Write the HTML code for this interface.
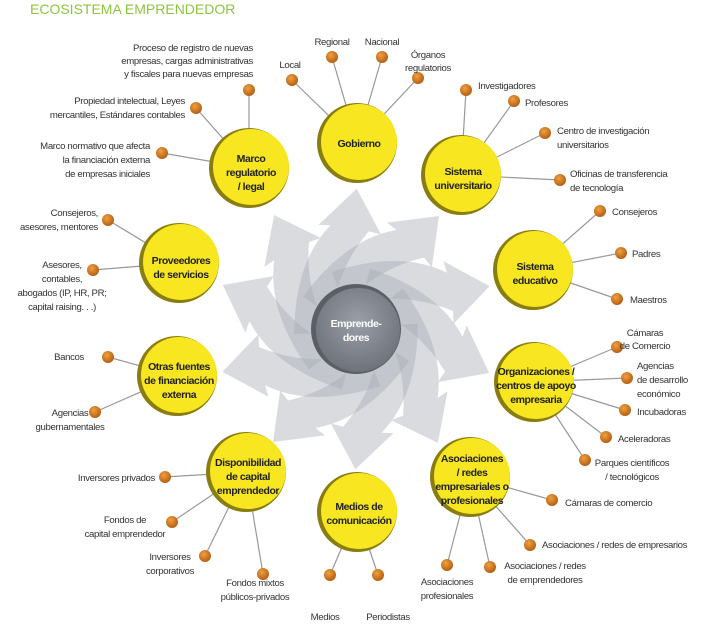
<!DOCTYPE html>
<html><head><meta charset="utf-8"><style>
body{margin:0;background:#fff}
svg{display:block}
text{font-family:"Liberation Sans Narrow","Liberation Sans",sans-serif;font-size:9.6px;letter-spacing:-0.35px;fill:#333}
.n{font-weight:bold;font-size:10.5px;letter-spacing:-0.45px;fill:#222;text-anchor:middle}
.c{text-anchor:middle}.e{text-anchor:end}
</style></head><body>
<svg width="720" height="626" viewBox="0 0 720 626" xmlns="http://www.w3.org/2000/svg">
<defs>
<radialGradient id="dot" cx="0.4" cy="0.35" r="0.7"><stop offset="0" stop-color="#f0a040"/><stop offset="1" stop-color="#b05a10"/></radialGradient>
<radialGradient id="cg" cx="0.5" cy="0.4" r="0.6"><stop offset="0" stop-color="#9a9ea6"/><stop offset="1" stop-color="#6e727a"/></radialGradient>
<path id="arr" fill="rgba(165,170,178,0.42)" d="M -62,2 Q -58,-70 -20,-105 L -32,-106 L 8,-140 L 30,-93 L 18,-97 Q -22,-55 -24,2 Z"/>
</defs>
<text x="30" y="14" style="font-size:14px;letter-spacing:0;fill:#8cc63f;font-family:'Liberation Sans',sans-serif">ECOSISTEMA EMPRENDEDOR</text>
<g transform="translate(356,329)">
<use href="#arr" transform="rotate(-3)"/><use href="#arr" transform="rotate(33)"/><use href="#arr" transform="rotate(69)"/><use href="#arr" transform="rotate(105)"/><use href="#arr" transform="rotate(141)"/><use href="#arr" transform="rotate(177)"/><use href="#arr" transform="rotate(213)"/><use href="#arr" transform="rotate(249)"/><use href="#arr" transform="rotate(285)"/><use href="#arr" transform="rotate(321)"/>
<circle r="45" fill="#5a5e66"/><circle r="42" cx="2" cy="1" fill="url(#cg)"/>
<text class="n" y="-2" style="fill:#fff">Emprende-</text><text class="n" y="12" style="fill:#fff">dores</text>
</g>
<g stroke="#999" stroke-width="1.2">
<line x1="292" y1="80" x2="357" y2="143"/><line x1="332" y1="57" x2="357" y2="143"/><line x1="382" y1="57" x2="357" y2="143"/><line x1="418" y1="78" x2="357" y2="143"/>
<line x1="249" y1="90" x2="249" y2="168"/><line x1="196" y1="108" x2="249" y2="168"/><line x1="162" y1="153" x2="249" y2="168"/>
<line x1="108" y1="220" x2="179" y2="263"/><line x1="93" y1="270" x2="179" y2="263"/>
<line x1="108" y1="357" x2="177" y2="376"/><line x1="95" y1="412" x2="177" y2="376"/>
<line x1="165" y1="477" x2="246" y2="472"/><line x1="172" y1="522" x2="246" y2="472"/><line x1="205" y1="556" x2="246" y2="472"/><line x1="263" y1="574" x2="246" y2="472"/>
<line x1="330" y1="575" x2="357" y2="512"/><line x1="378" y1="575" x2="357" y2="512"/>
<line x1="552" y1="500" x2="470" y2="477"/><line x1="530" y1="545" x2="470" y2="477"/><line x1="490" y1="567" x2="470" y2="477"/><line x1="447" y1="565" x2="470" y2="477"/>
<line x1="617" y1="347" x2="534" y2="382"/><line x1="627" y1="378" x2="534" y2="382"/><line x1="625" y1="410" x2="534" y2="382"/><line x1="606" y1="437" x2="534" y2="382"/><line x1="585" y1="460" x2="534" y2="382"/>
<line x1="600" y1="211" x2="533" y2="270"/><line x1="621" y1="253" x2="533" y2="270"/><line x1="617" y1="299" x2="533" y2="270"/>
<line x1="466" y1="90" x2="461" y2="175"/><line x1="514" y1="101" x2="461" y2="175"/><line x1="545" y1="133" x2="461" y2="175"/><line x1="560" y1="180" x2="461" y2="175"/>
</g>
<g fill="url(#dot)">
<circle cx="292" cy="80" r="6"/><circle cx="332" cy="57" r="6"/><circle cx="382" cy="57" r="6"/><circle cx="418" cy="78" r="6"/>
<circle cx="249" cy="90" r="6"/><circle cx="196" cy="108" r="6"/><circle cx="162" cy="153" r="6"/>
<circle cx="108" cy="220" r="6"/><circle cx="93" cy="270" r="6"/>
<circle cx="108" cy="357" r="6"/><circle cx="95" cy="412" r="6"/>
<circle cx="165" cy="477" r="6"/><circle cx="172" cy="522" r="6"/><circle cx="205" cy="556" r="6"/><circle cx="263" cy="574" r="6"/>
<circle cx="330" cy="575" r="6"/><circle cx="378" cy="575" r="6"/>
<circle cx="552" cy="500" r="6"/><circle cx="530" cy="545" r="6"/><circle cx="490" cy="567" r="6"/><circle cx="447" cy="565" r="6"/>
<circle cx="617" cy="347" r="6"/><circle cx="627" cy="378" r="6"/><circle cx="625" cy="410" r="6"/><circle cx="606" cy="437" r="6"/><circle cx="585" cy="460" r="6"/>
<circle cx="600" cy="211" r="6"/><circle cx="621" cy="253" r="6"/><circle cx="617" cy="299" r="6"/>
<circle cx="466" cy="90" r="6"/><circle cx="514" cy="101" r="6"/><circle cx="545" cy="133" r="6"/><circle cx="560" cy="180" r="6"/>
</g>
<g>
<g transform="translate(357,143)"><circle r="40" fill="#8a7d10"/><circle r="38" cx="2" cy="-1" fill="#f7e620"/></g>
<g transform="translate(461,175)"><circle r="40" fill="#8a7d10"/><circle r="38" cx="2" cy="-1" fill="#f7e620"/></g>
<g transform="translate(533,270)"><circle r="40" fill="#8a7d10"/><circle r="38" cx="2" cy="-1" fill="#f7e620"/></g>
<g transform="translate(534,382)"><circle r="40" fill="#8a7d10"/><circle r="38" cx="2" cy="-1" fill="#f7e620"/></g>
<g transform="translate(470,477)"><circle r="40" fill="#8a7d10"/><circle r="38" cx="2" cy="-1" fill="#f7e620"/></g>
<g transform="translate(357,512)"><circle r="40" fill="#8a7d10"/><circle r="38" cx="2" cy="-1" fill="#f7e620"/></g>
<g transform="translate(246,472)"><circle r="40" fill="#8a7d10"/><circle r="38" cx="2" cy="-1" fill="#f7e620"/></g>
<g transform="translate(177,376)"><circle r="40" fill="#8a7d10"/><circle r="38" cx="2" cy="-1" fill="#f7e620"/></g>
<g transform="translate(179,263)"><circle r="40" fill="#8a7d10"/><circle r="38" cx="2" cy="-1" fill="#f7e620"/></g>
<g transform="translate(249,168)"><circle r="40" fill="#8a7d10"/><circle r="38" cx="2" cy="-1" fill="#f7e620"/></g>
</g>
<text class="n" x="359" y="147">Gobierno</text>
<text class="n" x="463" y="175">Sistema</text><text class="n" x="463" y="189">universitario</text>
<text class="n" x="535" y="270">Sistema</text><text class="n" x="535" y="284">educativo</text>
<text class="n" x="536" y="375">Organizaciones /</text><text class="n" x="536" y="389">centros de apoyo</text><text class="n" x="536" y="403">empresaria</text>
<text class="n" x="472" y="462">Asociaciones</text><text class="n" x="472" y="476">/ redes</text><text class="n" x="472" y="490">empresariales o</text><text class="n" x="472" y="504">profesionales</text>
<text class="n" x="359" y="510">Medios de</text><text class="n" x="359" y="524">comunicación</text>
<text class="n" x="248" y="466">Disponibilidad</text><text class="n" x="248" y="480">de capital</text><text class="n" x="248" y="494">emprendedor</text>
<text class="n" x="179" y="370">Otras fuentes</text><text class="n" x="179" y="384">de financiación</text><text class="n" x="179" y="398">externa</text>
<text class="n" x="181" y="264">Proveedores</text><text class="n" x="181" y="278">de servicios</text>
<text class="n" x="251" y="162">Marco</text><text class="n" x="251" y="176">regulatorio</text><text class="n" x="251" y="190">/ legal</text>
<text class="c" x="290" y="68">Local</text><text class="c" x="332" y="45">Regional</text><text class="c" x="382" y="45">Nacional</text>
<text class="c" x="428" y="58">Órganos</text><text class="c" x="428" y="71">regulatorios</text>
<text class="e" x="253" y="51">Proceso de registro de nuevas</text><text class="e" x="253" y="64">empresas, cargas administrativas</text><text class="e" x="253" y="77">y fiscales para nuevas empresas</text>
<text class="e" x="185" y="104">Propiedad intelectual, Leyes</text><text class="e" x="185" y="118">mercantiles, Estándares contables</text>
<text class="e" x="150" y="149">Marco normativo que afecta</text><text class="e" x="150" y="163">la financiación externa</text><text class="e" x="150" y="177">de empresas iniciales</text>
<text class="e" x="98" y="216">Consejeros,</text><text class="e" x="98" y="230">asesores, mentores</text>
<text class="c" x="62" y="268">Asesores,</text><text class="c" x="62" y="282">contables,</text><text class="c" x="62" y="296">abogados (IP, HR, PR;</text><text class="c" x="62" y="310">capital raising. . .)</text>
<text class="e" x="84" y="360">Bancos</text>
<text class="c" x="70" y="416">Agencias</text><text class="c" x="70" y="430">gubernamentales</text>
<text class="e" x="155" y="481">Inversores privados</text>
<text class="c" x="125" y="523">Fondos de</text><text class="c" x="125" y="537">capital emprendedor</text>
<text class="c" x="170" y="560">Inversores</text><text class="c" x="170" y="574">corporativos</text>
<text class="c" x="255" y="586">Fondos mixtos</text><text class="c" x="255" y="600">públicos-privados</text>
<text class="c" x="325" y="620">Medios</text><text class="c" x="388" y="620">Periodistas</text>
<text x="565" y="506">Cámaras de comercio</text>
<text x="542" y="548">Asociaciones / redes de empresarios</text>
<text class="c" x="545" y="569">Asociaciones / redes</text><text class="c" x="545" y="583">de emprendedores</text>
<text class="c" x="447" y="585">Asociaciones</text><text class="c" x="447" y="599">profesionales</text>
<text class="c" x="645" y="336">Cámaras</text><text class="c" x="645" y="349">de Comercio</text>
<text x="637" y="369">Agencias</text><text x="637" y="383">de desarrollo</text><text x="637" y="397">económico</text>
<text x="637" y="415">Incubadoras</text><text x="618" y="442">Aceleradoras</text>
<text class="c" x="632" y="466">Parques científicos</text><text class="c" x="632" y="480">/ tecnológicos</text>
<text x="612" y="215">Consejeros</text><text x="632" y="257">Padres</text><text x="630" y="303">Maestros</text>
<text x="478" y="89">Investigadores</text><text x="525" y="106">Profesores</text>
<text x="557" y="134">Centro de investigación</text><text x="557" y="148">universitarios</text>
<text x="570" y="177">Oficinas de transferencia</text><text x="570" y="191">de tecnología</text>
</svg>
</body></html>
